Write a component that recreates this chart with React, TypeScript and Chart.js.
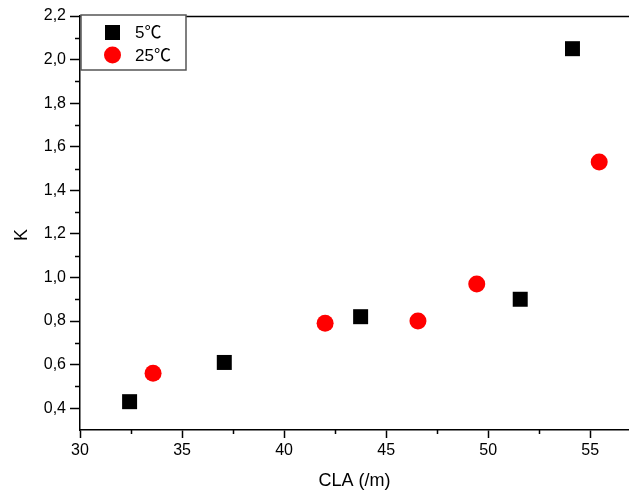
import React, { useEffect, useRef } from 'react';
import { Chart, registerables } from 'chart.js';

Chart.register(...registerables);

const seriesLabels = ['5℃', '25℃'];
const seriesColors = ['#000000', '#ff0000'];
const series5X = [32.43, 37.07, 43.75, 51.57, 54.13];
const series5Y = [0.43, 0.61, 0.82, 0.9, 2.05];
const series25X = [33.58, 42.01, 46.56, 49.44, 55.44];
const series25Y = [0.56, 0.79, 0.8, 0.97, 1.53];
const xTicks = [30, 35, 40, 45, 50, 55];
const xMinorTicks = [32.5, 37.5, 42.5, 47.5, 52.5];
const yTicks = [0.4, 0.6, 0.8, 1.0, 1.2, 1.4, 1.6, 1.8, 2.0, 2.2];
const yMinorTicks = [0.5, 0.7, 0.9, 1.1, 1.3, 1.5, 1.7, 1.9, 2.1];
const xTitle = 'CLA (/m)';
const yTitle = 'K';

const FONT = '"Liberation Sans", Arial, sans-serif';
const LEGEND_FONT = '"Liberation Sans", "Noto Sans CJK SC", sans-serif';

const framePlugin = {
  id: 'frameAndLegend',
  afterDatasetsDraw(chart: any) {
    const { ctx, chartArea, scales } = chart;
    const xs = scales.x;
    const ys = scales.y;
    ctx.save();
    // top frame line
    ctx.strokeStyle = '#000';
    ctx.lineWidth = 1.5;
    ctx.beginPath();
    ctx.moveTo(chartArea.left, chartArea.top + 0.5);
    ctx.lineTo(chartArea.right, chartArea.top + 0.5);
    ctx.stroke();
    // minor ticks
    ctx.beginPath();
    xMinorTicks.forEach((v) => {
      const px = Math.round(xs.getPixelForValue(v)) + 0.5;
      if (px <= chartArea.right) {
        ctx.moveTo(px, chartArea.bottom);
        ctx.lineTo(px, chartArea.bottom + 4);
      }
    });
    yMinorTicks.forEach((v) => {
      const py = Math.round(ys.getPixelForValue(v)) + 0.5;
      ctx.moveTo(chartArea.left, py);
      ctx.lineTo(chartArea.left - 5, py);
    });
    ctx.stroke();

    // y axis title
    ctx.save();
    ctx.translate(22.5, (chartArea.top + chartArea.bottom) / 2 + 12);
    ctx.rotate(-Math.PI / 2);
    ctx.font = `18px ${FONT}`;
    ctx.fillStyle = '#000';
    ctx.textAlign = 'center';
    ctx.textBaseline = 'middle';
    ctx.fillText(yTitle, 0, 0);
    ctx.restore();

    // legend box
    const bx = chartArea.left + 1;
    const by = chartArea.top - 1;
    const bw = 105;
    const bh = 55;
    ctx.fillStyle = '#fff';
    ctx.fillRect(bx, by, bw, bh);
    ctx.strokeStyle = '#555';
    ctx.lineWidth = 1.5;
    ctx.strokeRect(bx, by, bw, bh);

    const ds = chart.data.datasets;
    ctx.font = `17px ${LEGEND_FONT}`;
    ctx.textBaseline = 'middle';
    ctx.textAlign = 'left';
    ctx.fillStyle = ds[0].backgroundColor;
    ctx.fillRect(bx + 24, by + 10, 15, 15);
    ctx.fillStyle = '#000';
    ctx.fillText(ds[0].label, bx + 54, by + 18);
    ctx.fillStyle = ds[1].backgroundColor;
    ctx.beginPath();
    ctx.arc(bx + 31.5, by + 40, 8.5, 0, Math.PI * 2);
    ctx.fill();
    ctx.fillStyle = '#000';
    ctx.fillText(ds[1].label, bx + 54, by + 41);
    ctx.restore();
  },
};

export default function App() {
  const ref = useRef<HTMLCanvasElement>(null);

  useEffect(() => {
    document.body.style.margin = '0';
    const canvas = ref.current;
    if (!canvas) return;
    const chart = new Chart(canvas, {
      type: 'scatter',
      data: {
        datasets: [
          {
            label: seriesLabels[0],
            data: series5X.map((x, i) => ({ x, y: series5Y[i] })),
            pointStyle: 'rect',
            pointRadius: 10.6,
            pointHoverRadius: 10.6,
            backgroundColor: seriesColors[0],
            borderColor: seriesColors[0],
            borderWidth: 0,
          },
          {
            label: seriesLabels[1],
            data: series25X.map((x, i) => ({ x, y: series25Y[i] })),
            pointStyle: 'circle',
            pointRadius: 8.5,
            pointHoverRadius: 8.5,
            backgroundColor: seriesColors[1],
            borderColor: seriesColors[1],
            borderWidth: 0,
          },
        ],
      },
      options: {
        responsive: false,
        animation: false,
        devicePixelRatio: 1,
        layout: { autoPadding: false, padding: { top: 16, right: 0, left: 0, bottom: 0 } },
        plugins: {
          legend: { display: false },
          tooltip: { enabled: false },
        },
        scales: {
          x: {
            type: 'linear',
            min: 30,
            max: 56.9,
            afterBuildTicks: (s: any) => {
              s.ticks = xTicks.map((v) => ({ value: v }));
            },
            afterFit: (s: any) => {
              s.height = 62;
              s.paddingLeft = 0;
              s.paddingRight = 0;
            },
            grid: {
              display: true,
              drawOnChartArea: false,
              drawTicks: true,
              tickLength: 8,
              tickColor: '#000',
              tickWidth: 1.5,
            },
            border: { display: true, color: '#000', width: 1.5 },
            ticks: {
              color: '#000',
              padding: 3,
              maxRotation: 0,
              font: { family: FONT, size: 16 },
              callback: (v: any) => String(v),
            },
            title: {
              display: true,
              text: xTitle,
              color: '#000',
              font: { family: FONT, size: 18 },
              padding: { top: 0, bottom: 0 },
            },
          },
          y: {
            type: 'linear',
            min: 0.3,
            max: 2.2,
            afterBuildTicks: (s: any) => {
              s.ticks = yTicks.map((v) => ({ value: v }));
            },
            afterFit: (s: any) => {
              s.width = 80;
            },
            grid: {
              display: true,
              drawOnChartArea: false,
              drawTicks: true,
              tickLength: 10,
              tickColor: '#000',
              tickWidth: 1.5,
            },
            border: { display: true, color: '#000', width: 1.5 },
            ticks: {
              color: '#000',
              padding: 4,
              font: { family: FONT, size: 16 },
              callback: (v: any) => Number(v).toFixed(1).replace('.', ','),
            },
            title: { display: false },
          },
        },
      },
      plugins: [framePlugin],
    });
    return () => chart.destroy();
  }, []);

  return (
    <div style={{ width: 629, height: 492 }}>
      <canvas ref={ref} width={629} height={492} />
    </div>
  );
}
